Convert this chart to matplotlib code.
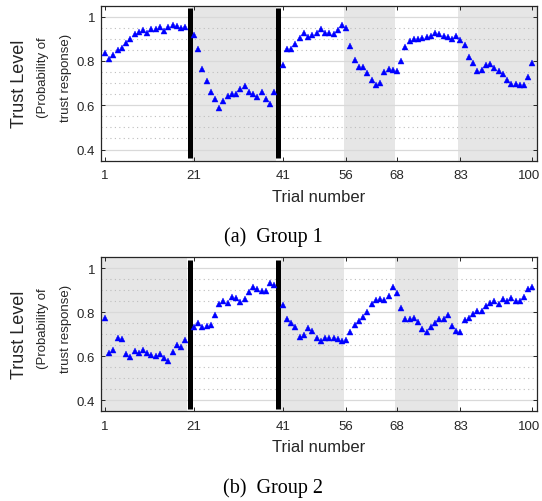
import numpy as np
import matplotlib
matplotlib.use("Agg")
import matplotlib.pyplot as plt
from matplotlib.ticker import MultipleLocator
from matplotlib.transforms import ScaledTranslation

# ---------------- data ----------------
trials = list(range(1, 101))

group1 = [0.835, 0.810, 0.828, 0.849, 0.858, 0.880, 0.900, 0.923, 0.931, 0.938,
          0.928, 0.945, 0.945, 0.952, 0.934, 0.952, 0.961, 0.957, 0.948, 0.952,
          0.919, 0.853, 0.763, 0.711, 0.658, 0.628, 0.589, 0.619, 0.642, 0.649,
          0.649, 0.673, 0.685, 0.658, 0.653, 0.636, 0.658, 0.628, 0.606, 0.658,
          0.781, 0.856, 0.853, 0.878, 0.904, 0.926, 0.910, 0.919, 0.926, 0.943,
          0.926, 0.926, 0.922, 0.939, 0.961, 0.948, 0.867, 0.805, 0.775, 0.775,
          0.745, 0.712, 0.693, 0.702, 0.750, 0.763, 0.758, 0.754, 0.800, 0.862,
          0.892, 0.898, 0.898, 0.906, 0.910, 0.915, 0.926, 0.922, 0.915, 0.910,
          0.901, 0.915, 0.897, 0.871, 0.819, 0.793, 0.756, 0.758, 0.784, 0.788,
          0.770, 0.756, 0.741, 0.715, 0.698, 0.694, 0.690, 0.693, 0.729, 0.793]

group2 = [0.776, 0.615, 0.627, 0.683, 0.680, 0.611, 0.597, 0.624, 0.615, 0.629,
          0.615, 0.606, 0.602, 0.611, 0.592, 0.579, 0.618, 0.650, 0.641, 0.676,
          0.732, 0.750, 0.732, 0.736, 0.741, 0.789, 0.836, 0.850, 0.844, 0.868,
          0.864, 0.845, 0.859, 0.894, 0.915, 0.908, 0.898, 0.895, 0.933, 0.924,
          0.833, 0.768, 0.750, 0.733, 0.689, 0.698, 0.729, 0.715, 0.685, 0.671,
          0.685, 0.685, 0.682, 0.677, 0.671, 0.676, 0.711, 0.742, 0.759, 0.777,
          0.803, 0.838, 0.856, 0.861, 0.856, 0.874, 0.917, 0.886, 0.821, 0.770,
          0.770, 0.773, 0.755, 0.724, 0.711, 0.732, 0.750, 0.768, 0.768, 0.789,
          0.738, 0.717, 0.711, 0.764, 0.773, 0.794, 0.808, 0.808, 0.829, 0.842,
          0.850, 0.838, 0.861, 0.852, 0.865, 0.852, 0.852, 0.870, 0.908, 0.917]

block_breaks = [20, 40]                 # a thick black bar after these trials
tick_trials = [1, 21, 41, 56, 68, 83, 100]
ytick_vals = [0.4, 0.6, 0.8, 1.0]
ytick_labels = ["0.4", "0.6", "0.8", "1"]
shade_g1 = [(21, 40), (56, 67), (83, 100)]
shade_g2 = [(1, 20), (41, 55), (68, 82)]
captions = ["(a)  Group 1", "(b)  Group 2"]

# ---------------- helpers ----------------
def pos(t):
    t = np.asarray(t)
    off = np.zeros_like(t, dtype=float)
    for b in block_breaks:
        off = off + (t > b)
    return t + off

XMIN, XMAX = 0, 103
bar_pos = [b + 1 + i for i, b in enumerate(block_breaks)]

DARK = "#262626"
plt.rcParams["font.family"] = ["Liberation Sans", "DejaVu Sans"]

W, H = 542, 502
fig = plt.figure(figsize=(W / 100, H / 100), dpi=100)

axes_rects = [[0.1858, 0.678, 0.8044, 0.3088], [0.1858, 0.1787, 0.8044, 0.3068]]
series = [group1, group2]
shades = [shade_g1, shade_g2]

for k in range(2):
    ax = fig.add_axes(axes_rects[k])
    ax.set_axisbelow(True)
    for (a, b) in shades[k]:
        x0 = XMIN if a == trials[0] else pos(a) - 0.5
        x1 = XMAX if b == trials[-1] else pos(b) + 0.5
        ax.axvspan(x0, x1, color="#e6e6e6", lw=0, zorder=0.1)
    for bp in bar_pos:
        ax.axvline(bp, ymin=0.015, ymax=0.985, color="black", lw=3.6,
                   solid_capstyle="butt", zorder=3)
    ax.plot(pos(trials), series[k], linestyle="none", marker="^",
            markersize=3.8, color="#0000ff", markeredgewidth=0.3, zorder=4)
    ax.set_xlim(XMIN, XMAX)
    ax.set_ylim(0.35, 1.05)
    ax.set_xticks(pos(tick_trials))
    ax.set_xticklabels([str(t) for t in tick_trials])
    ax.set_yticks(ytick_vals)
    ax.set_yticklabels(ytick_labels)
    ax.yaxis.set_minor_locator(MultipleLocator(0.05))
    ax.grid(True, which="major", axis="y", color="#d9d9d9", lw=0.9, linestyle="-")
    ax.grid(True, which="minor", axis="y", color="#bdbdbd", lw=0.8,
            linestyle=(0, (1, 3)))
    ax.tick_params(which="major", direction="in", length=3, width=0.7,
                   top=True, right=True, colors=DARK, labelsize=9.5, pad=4)
    ax.tick_params(axis="x", which="major", pad=6)
    ax.tick_params(which="minor", length=0, left=False, right=False)
    for s in ax.spines.values():
        s.set_color(DARK)
        s.set_linewidth(0.9)
    # keep the last x tick label ("100") inside the figure
    last = ax.get_xticklabels()[-1]
    last.set_transform(last.get_transform()
                       + ScaledTranslation(-3 / 100, 0, fig.dpi_scale_trans))

    l, b_, w, h = axes_rects[k]
    ax_top_px = H * (1 - (b_ + h))
    ax_bot_px = H * (1 - b_)
    cy = (ax_top_px + ax_bot_px) / 2
    # y labels
    fig.text(20 / W, 1 - cy / H, "Trust Level", rotation=90, ha="center",
             va="center", fontsize=13, color=DARK)
    fig.text(43 / W, 1 - (cy - 6.5) / H, "(Probability of", rotation=90,
             ha="center", va="center", fontsize=9.5, color=DARK)
    fig.text(65.5 / W, 1 - (cy - 6.5) / H, "trust response)", rotation=90,
             ha="center", va="center", fontsize=9.5, color=DARK)
    # x label
    xc = (l + w / 2)
    fig.text(xc, 1 - (ax_bot_px + 35.5) / H, "Trial number", ha="center",
             va="center", fontsize=12, color=DARK)
    # caption
    fig.text(273 / W, 1 - (ax_bot_px + 75.5) / H, captions[k], ha="center",
             va="center", fontsize=14.5, color="black",
             family=["Liberation Serif", "DejaVu Serif"])

fig.savefig("out.png", dpi=100)
